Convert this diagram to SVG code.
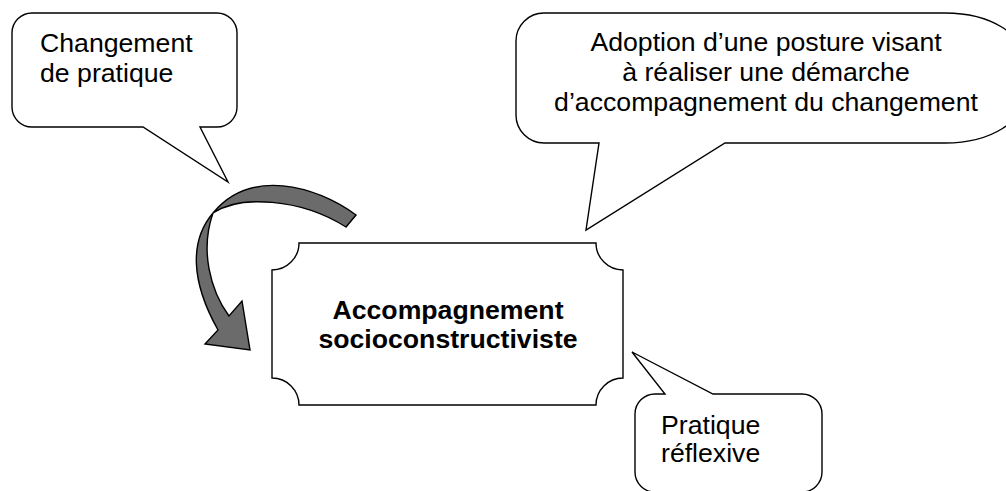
<svg xmlns="http://www.w3.org/2000/svg" width="1006" height="491" viewBox="0 0 1006 491">
  <style>
    .shape { fill: #ffffff; stroke: #000000; stroke-width: 1.4; stroke-linejoin: miter; }
    .arrow { fill: #6b6b6b; stroke: #000000; stroke-width: 1.4; stroke-linejoin: miter; }
    .label { font-family: "Liberation Sans", Arial, sans-serif; font-size: 26.67px; fill: #000000; }
    .bold { font-weight: bold; }
  </style>
  <rect x="0" y="0" width="1006" height="491" fill="#ffffff"/>

  <!-- curved arrow pointing into the central plaque -->
  <g id="connectors">
    <path class="arrow" d="M 356,215 C 315,185 250,168 213,213 C 240,195 300,198 346,227 Z"/>
    <path class="arrow" d="M 213,213 C 190,240 190,280 218,330 L 205,344 L 250,350 L 242,301 L 229,316 C 210,290 200,250 213,213 Z"/>
  </g>

  <!-- callout: change of practice -->
  <g id="callout-changement">
    <path class="shape" d="M 32,13 H 217 A 20 20 0 0 1 237 33 V 107 A 20 20 0 0 1 217 127 H 200 L 228,182 L 143,127 H 32 A 20 20 0 0 1 12 107 V 33 A 20 20 0 0 1 32 13 Z"/>
    <text class="label" x="40" y="52">Changement</text>
    <text class="label" x="40" y="82">de pratique</text>
  </g>

  <!-- callout: posture -->
  <g id="callout-posture">
    <path class="shape" d="M 544,13 H 945 C 985,13 1030,30 1030,78 C 1030,126 985,143 945,143 H 725 L 586,230 L 599,143 H 544 A 28 28 0 0 1 516 115 V 41 A 28 28 0 0 1 544 13 Z"/>
    <text class="label" text-anchor="middle" x="766" y="51">Adoption d’une posture visant</text>
    <text class="label" text-anchor="middle" x="766" y="81">à réaliser une démarche</text>
    <text class="label" text-anchor="middle" x="766" y="111">d’accompagnement du changement</text>
  </g>

  <!-- central plaque -->
  <g id="accompagnement">
    <path class="shape" d="M 299,243 H 596 A 27 27 0 0 0 623 270 V 378 A 27 27 0 0 0 596 405 H 299 A 27 27 0 0 0 272 378 V 270 A 27 27 0 0 0 299 243 Z"/>
    <text class="label bold" text-anchor="middle" x="448" y="319">Accompagnement</text>
    <text class="label bold" text-anchor="middle" x="448" y="348">socioconstructiviste</text>
  </g>

  <!-- callout: reflective practice -->
  <g id="callout-reflexive">
    <path class="shape" d="M 655,394 H 665 L 632,352 L 713,394 H 802 A 20 20 0 0 1 822 414 V 472 A 20 20 0 0 1 802 492 H 655 A 20 20 0 0 1 635 472 V 414 A 20 20 0 0 1 655 394 Z"/>
    <text class="label" x="661" y="434">Pratique</text>
    <text class="label" x="661" y="462">réflexive</text>
  </g>
</svg>
